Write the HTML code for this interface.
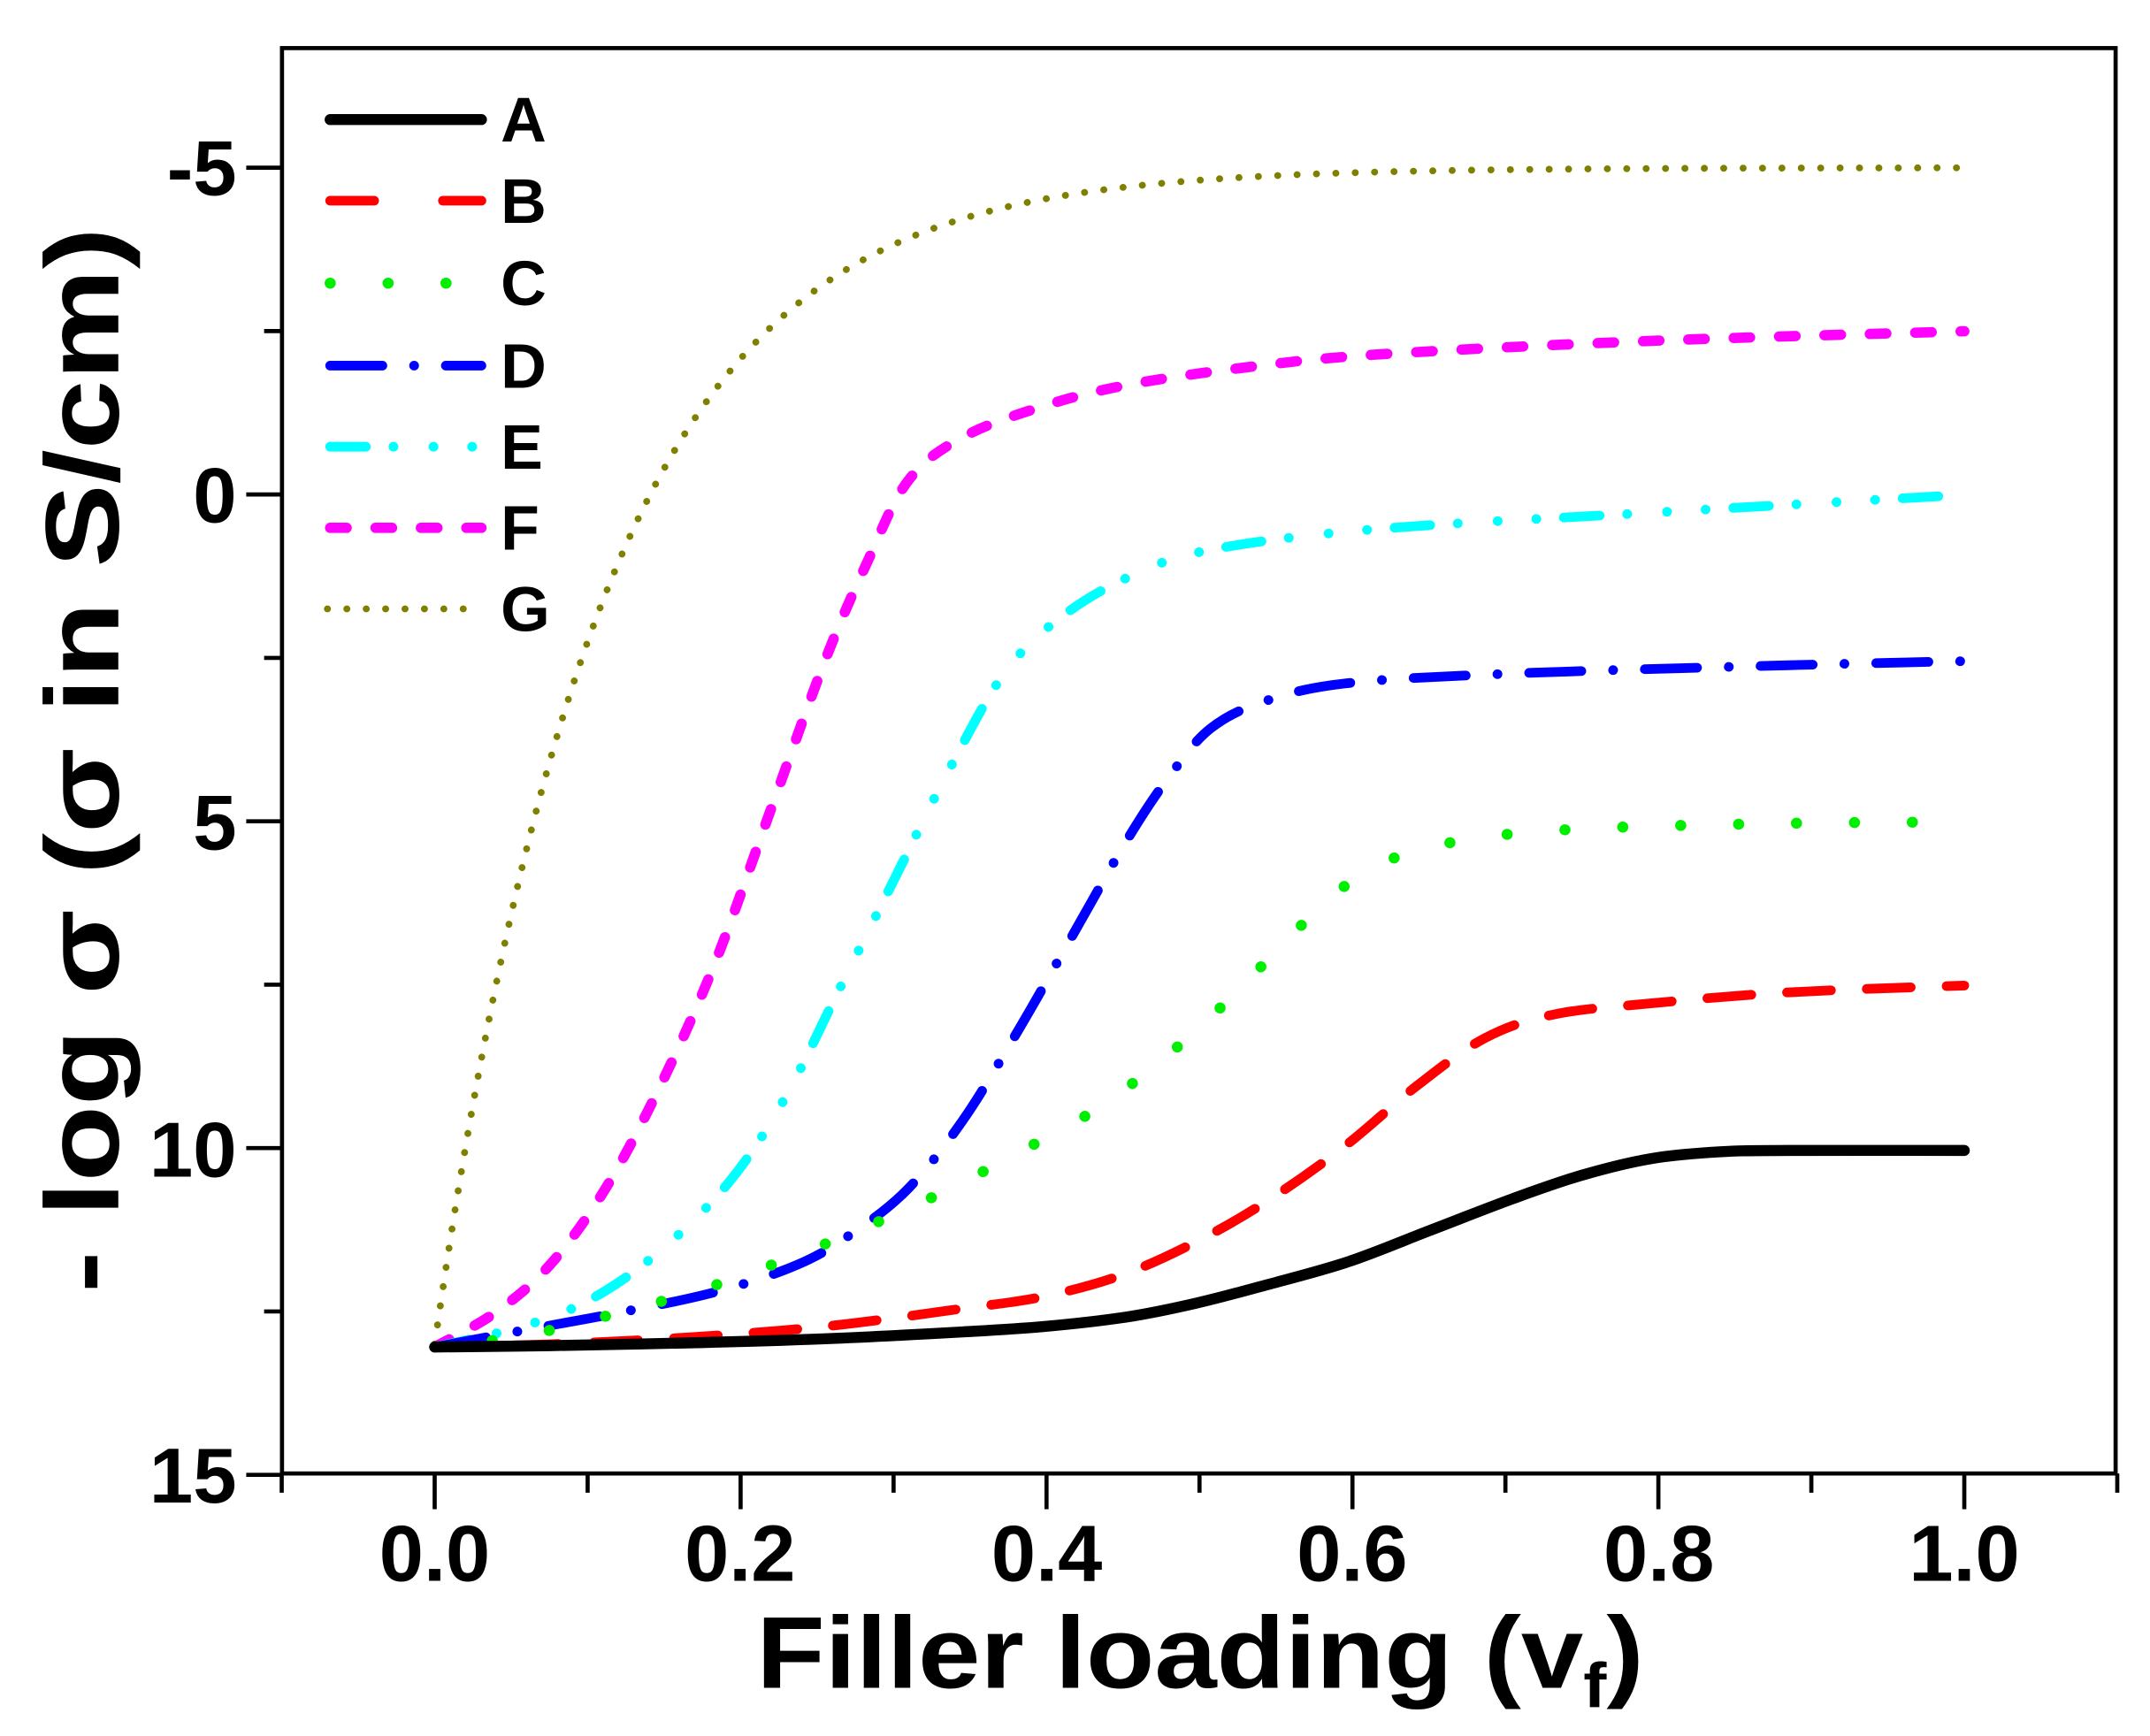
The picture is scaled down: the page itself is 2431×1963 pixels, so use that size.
<!DOCTYPE html>
<html><head><meta charset="utf-8"><style>
html,body{margin:0;padding:0;background:#fff;}
svg{display:block;}
text{font-family:"Liberation Sans",Arial,sans-serif;font-weight:bold;fill:#000;}
</style></head><body>
<svg id="s" width="2431" height="1963" viewBox="0 0 1563 1263" preserveAspectRatio="none" xmlns="http://www.w3.org/2000/svg">
<rect x="0" y="0" width="1563" height="1263" fill="#fff"/>
<g id="curves" fill="none" stroke-linecap="round" stroke-linejoin="round"></g>
<rect x="205" y="35" width="1333" height="1037" fill="none" stroke="#000" stroke-width="3"/>
<g stroke="#000" stroke-width="3" id="ticks"></g>
<g font-size="57" text-anchor="end">
<text x="172" y="142">-5</text>
<text x="172" y="380">0</text>
<text x="172" y="618">5</text>
<text x="172" y="856">10</text>
<text x="172" y="1093">15</text>
</g>
<g font-size="58" text-anchor="middle">
<text x="316" y="1150">0.0</text>
<text x="538" y="1150">0.2</text>
<text x="761" y="1150">0.4</text>
<text x="983" y="1150">0.6</text>
<text x="1206" y="1150">0.8</text>
<text x="1428" y="1150">1.0</text>
</g>
<text x="550" y="1228" font-size="74" textLength="645" lengthAdjust="spacingAndGlyphs">Filler loading (v<tspan font-size="46" dy="14">f</tspan><tspan dy="-14">)</tspan></text>
<text transform="translate(86,553) rotate(-90)" font-size="76" text-anchor="middle" textLength="775" lengthAdjust="spacingAndGlyphs">- log σ (σ in S/cm)</text>
<g fill="none" stroke-linecap="round">
<line x1="240" y1="87" x2="350" y2="87" stroke="#000" stroke-width="8"/>
<line x1="240" y1="146" x2="350" y2="146" stroke="#ff0000" stroke-width="7" stroke-dasharray="32 50"/>
<line x1="240" y1="206" x2="350" y2="206" stroke="#00ee00" stroke-width="8" stroke-dasharray="0.1 42"/>
<line x1="240" y1="266" x2="350" y2="266" stroke="#0000ff" stroke-width="7" stroke-dasharray="38 23 0.1 23"/>
<line x1="240" y1="325" x2="350" y2="325" stroke="#00ffff" stroke-width="7" stroke-dasharray="26 20 0.1 29 0.1 28 0.1 20"/>
<line x1="240" y1="384" x2="350" y2="384" stroke="#ff00ff" stroke-width="7.5" stroke-dasharray="12 21"/>
<line x1="238" y1="443" x2="350" y2="443" stroke="#808000" stroke-width="5" stroke-dasharray="0.1 14"/>
</g>
<g font-size="46">
<text x="364" y="103">A</text>
<text x="364" y="162">B</text>
<text x="364" y="222">C</text>
<text x="364" y="282">D</text>
<text x="364" y="341">E</text>
<text x="364" y="400">F</text>
<text x="364" y="459">G</text>
</g>
</svg>
<script>
(function(){
var NS="http://www.w3.org/2000/svg";
var t=document.getElementById("ticks");
function ln(x1,y1,x2,y2){var l=document.createElementNS(NS,"line");l.setAttribute("x1",x1);l.setAttribute("y1",y1);l.setAttribute("x2",x2);l.setAttribute("y2",y2);t.appendChild(l);}
for(var i=0;i<=8;i++){var y=122+i*(951/8); ln(205,y,i%2==0?179:192,y);}
for(var j=-1;j<=11;j++){var x=316+j*111.2; ln(x,1072,x,j%2==0?1098:1086);}
function cr(p){var d="M"+p[0][0]+","+p[0][1];for(var i=0;i<p.length-1;i++){var p0=p[i-1]||p[i],p1=p[i],p2=p[i+1],p3=p[i+2]||p[i+1];
var c1=[p1[0]+(p2[0]-p0[0])/6,p1[1]+(p2[1]-p0[1])/6],c2=[p2[0]-(p3[0]-p1[0])/6,p2[1]-(p3[1]-p1[1])/6];
d+=" C"+c1[0]+","+c1[1]+" "+c2[0]+","+c2[1]+" "+p2[0]+","+p2[1];}return d;}
var g=document.getElementById("curves");
function add(pts,col,w,da){var p=document.createElementNS(NS,"path");p.setAttribute("d",cr(pts));p.setAttribute("stroke",col);p.setAttribute("stroke-width",w);if(da)p.setAttribute("stroke-dasharray",da);g.appendChild(p);}
var G=[];for(var k=0;k<=100;k++){var x=k/100;var v=-5+18*Math.exp(-x/0.11);G.push([316+x*1112,122+(v+5)*47.55]);}
add(G,"#808000",5,"0.1 14");
add([[316,980],[360,955],[400,920],[440,865],[480,790],[520,700],[560,590],[600,480],[630,410],[660,350],[700,318],[760,295],[820,280],[900,268],[1000,258],[1200,248],[1428,241]],"#ff00ff",7.5,"12 21");
add([[316,980],[380,965],[430,945],[480,910],[530,860],[570,800],[610,720],[650,640],[690,560],[730,490],[770,450],[820,420],[880,400],[1000,385],[1200,373],[1428,360]],"#00ffff",7,"26 20 0.1 29 0.1 28 0.1 20");
add([[316,980],[380,968],[450,955],[520,940],[580,920],[620,897],[660,865],[700,815],[740,750],[780,680],[820,610],[850,565],[880,530],[920,510],[980,497],[1100,490],[1300,484],[1428,481]],"#0000ff",7,"38 23 0.1 23");
add([[316,980],[380,972],[450,955],[520,935],[600,905],[680,870],[760,828],[800,805],[840,775],[880,740],[920,700],[960,660],[1000,630],[1060,612],[1150,603],[1300,599],[1428,598]],"#00ee00",8,"0.1 42");
add([[316,980],[400,978],[500,973],[600,965],[700,952],[760,943],[820,926],[880,898],[930,868],[980,832],[1030,790],[1080,755],[1130,738],[1200,730],[1300,722],[1428,717]],"#ff0000",7,"32 26");
add([[316,980],[400,979],[500,977],[600,974],[700,969],[760,965],[820,958],[870,948],[920,935],[980,918],[1040,895],[1100,872],[1150,855],[1200,843],[1250,838],[1300,837],[1428,837]],"#000",8,null);
})();
</script>
</body></html>
